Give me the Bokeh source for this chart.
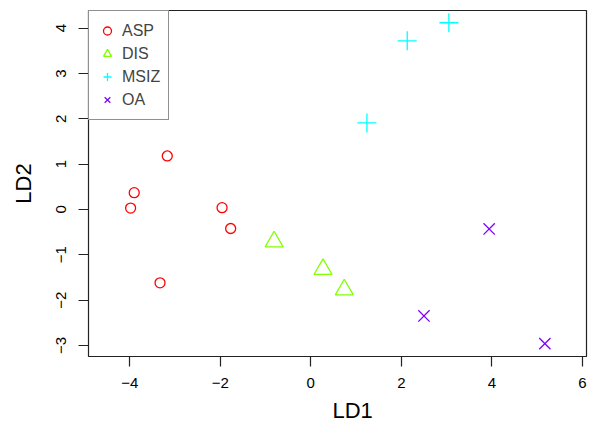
from bokeh.plotting import figure
from bokeh.models import Range1d, FixedTicker, Legend, LegendItem, Title
from bokeh.embed import file_html
from bokeh.resources import INLINE

# Data (LD1, LD2 scores)
asp_x = [-3.17, -3.90, -3.98, -1.96, -1.77, -3.33]
asp_y = [1.18, 0.37, 0.03, 0.04, -0.42, -1.62]
dis_x = [-0.81, 0.27, 0.74]
dis_y = [-0.71, -1.32, -1.77]
msiz_x = [1.24, 2.13, 3.05]
msiz_y = [1.91, 3.72, 4.12]
oa_x = [3.94, 2.50, 5.17]
oa_y = [-0.43, -2.35, -2.96]

groups = ["ASP", "DIS", "MSIZ", "OA"]
colors = ["#FF0000", "#80FF00", "#00FFFF", "#8000FF"]
x_ticks = [-4, -2, 0, 2, 4, 6]
y_ticks = [-3, -2, -1, 0, 1, 2, 3, 4]

FONT = "Liberation Sans"

p = figure(width=596, height=431, output_backend="svg", toolbar_location=None,
           x_range=Range1d(-4.91, 6.09), y_range=Range1d(-3.245, 4.39),
           min_border_left=88, min_border_right=10, min_border_top=10, min_border_bottom=75)
p.background_fill_color = "white"
p.border_fill_color = "white"
p.outline_line_color = "#222222"
p.outline_line_width = 1.2
p.xgrid.visible = False
p.ygrid.visible = False

r_asp = p.scatter(asp_x, asp_y, marker="circle", size=10, fill_color=None,
                  line_color=colors[0], line_width=1.3)
r_dis = p.scatter(dis_x, dis_y, marker="triangle", size=18, fill_color=None,
                  line_color=colors[1], line_width=1.3)
r_msiz = p.scatter(msiz_x, msiz_y, marker="cross", size=19,
                   line_color=colors[2], line_width=1.3)
r_oa = p.scatter(oa_x, oa_y, marker="x", size=16,
                 line_color=colors[3], line_width=1.3)

for ax in (p.xaxis[0], p.yaxis[0]):
    ax.axis_line_color = None
    ax.major_tick_in = 0
    ax.major_tick_out = 10
    ax.major_tick_line_color = "#222222"
    ax.major_tick_line_width = 1.2
    ax.minor_tick_line_color = None
    ax.major_label_text_font = FONT
    ax.major_label_text_font_size = "15px"
    ax.major_label_text_color = "black"
    ax.axis_label_text_font = FONT
    ax.axis_label_text_font_style = "normal"
    ax.axis_label_text_font_size = "22px"
    ax.axis_label_text_color = "black"

p.xaxis[0].ticker = FixedTicker(ticks=x_ticks)
p.yaxis[0].ticker = FixedTicker(ticks=y_ticks)
p.xaxis[0].major_label_standoff = 11
p.yaxis[0].major_label_standoff = 12
p.yaxis[0].major_label_orientation = "vertical"
p.yaxis[0].axis_label = "LD2"
p.yaxis[0].axis_label_standoff = 18

# x-axis title, drawn as a title below the axis so that it can sit off-centre like the reference
ld1 = Title(text="LD1", align="left", offset=244, standoff=11,
            text_font=FONT, text_font_size="22px", text_font_style="normal",
            text_color="black")
p.add_layout(ld1, "below")

legend = Legend(items=[LegendItem(label=g, renderers=[r]) for g, r in
                       zip(groups, [r_asp, r_dis, r_msiz, r_oa])],
                location="top_left", margin=0, padding=8,
                glyph_width=20, glyph_height=23, label_height=23, spacing=0,
                label_standoff=5, label_text_font=FONT, label_text_font_size="16px",
                border_line_color="#222222", border_line_width=1.2,
                background_fill_color="white", background_fill_alpha=1.0)
p.add_layout(legend)

open("out.html", "w").write(file_html(p, INLINE))
